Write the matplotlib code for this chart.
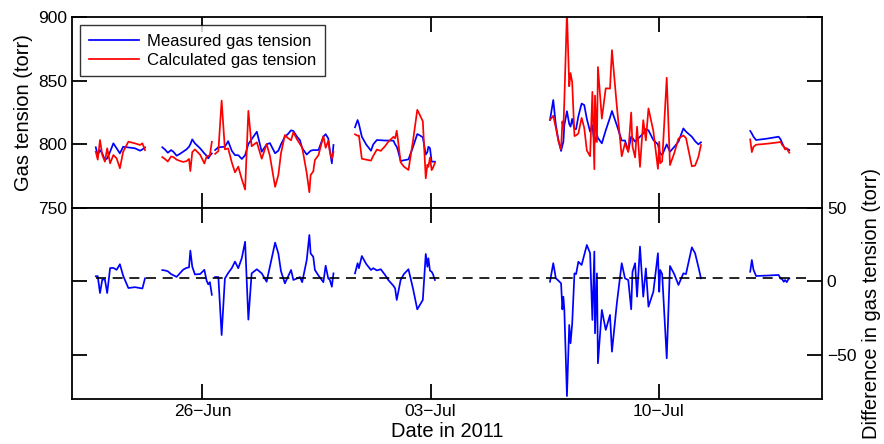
import numpy as np
import pandas as pd

import matplotlib
matplotlib.use('Agg')
import matplotlib.pyplot as plt
import matplotlib.dates as mdates

plt.rcParams['font.family'] = ['Liberation Sans', 'DejaVu Sans']

# Time axis: fractional days after 2011-06-22 00:00. Segments are separate
# logging periods (gaps between them).
T0 = pd.Timestamp('2011-06-22')

day_1 = [0.73, 0.79, 0.86, 0.93, 1.01, 1.08, 1.17, 1.27, 1.37, 1.47, 1.57, 1.73, 1.93, 2.09, 2.16, 2.24]
meas_1 = [797.7, 791.6, 795.5, 792.9, 787.7, 789.0, 794.2, 800.8, 796.9, 792.9, 798.1, 797.6, 796.9, 795.0, 796.0, 797.6]
calc_1 = [794.2, 788.0, 803.4, 791.6, 786.4, 796.9, 785.1, 791.6, 789.0, 781.2, 794.2, 802.1, 800.8, 799.5, 800.8, 795.5]

day_2 = [2.77, 2.85, 2.94, 3.04, 3.11, 3.21, 3.31, 3.41, 3.51, 3.59, 3.63, 3.69, 3.77, 3.93, 4.06, 4.13, 4.18, 4.23, 4.29]
meas_2 = [797.7, 796.0, 793.4, 795.5, 794.2, 791.1, 792.5, 794.2, 796.0, 798.1, 800.0, 803.9, 800.8, 796.9, 792.9, 791.0, 789.0, 791.0, 792.9]
calc_2 = [790.0, 788.5, 786.5, 790.5, 790.0, 788.0, 787.0, 786.2, 786.8, 788.5, 779.0, 793.9, 796.0, 791.9, 785.0, 790.5, 791.0, 791.5, 802.0]

day_3 = [4.39, 4.49, 4.59, 4.69, 4.79, 4.90, 5.00, 5.10, 5.21, 5.31, 5.41, 5.51, 5.67, 5.82, 5.97, 6.07,
         6.23, 6.33, 6.41, 6.53, 6.62, 6.72, 6.79, 6.90, 6.99, 7.06, 7.20, 7.28, 7.32, 7.40, 7.45, 7.56,
         7.71, 7.78, 7.86, 7.91, 7.97, 8.02]
meas_3 = [795.5, 797.7, 797.9, 798.1, 802.5, 795.0, 791.5, 791.5, 788.5, 791.5, 800.3, 804.0, 809.9, 794.2, 800.0, 801.0,
          793.0, 795.0, 800.0, 806.0, 808.0, 811.0, 810.5, 806.0, 803.4, 797.0, 792.0, 794.0, 795.0, 795.5, 795.5, 795.5,
          806.0, 808.0, 804.7, 795.0, 785.1, 799.5]
calc_3 = [792.5, 794.7, 834.4, 796.1, 796.8, 786.0, 778.0, 782.5, 772.5, 764.5, 826.3, 798.5, 801.6, 788.7, 800.2, 791.0,
          766.6, 776.0, 793.0, 807.3, 805.0, 803.2, 809.5, 804.0, 800.4, 797.5, 777.4, 762.4, 776.0, 778.7, 787.7, 791.5,
          806.5, 797.3, 802.7, 794.0, 788.7, 794.0]

day_4 = [8.68, 8.76, 8.80, 8.89, 9.02, 9.17, 9.24, 9.35, 9.47, 9.60, 9.70, 9.86, 9.91, 9.96, 10.00, 10.08,
         10.18, 10.32, 10.46, 10.59, 10.67, 10.76, 10.85, 10.90, 10.93, 10.98, 11.03, 11.07, 11.13]
meas_4 = [813.4, 819.1, 816.0, 806.0, 800.0, 795.0, 800.0, 803.4, 803.2, 803.0, 803.0, 802.9, 800.0, 798.1, 795.0, 786.9,
          787.5, 788.2, 798.0, 808.1, 807.0, 805.5, 792.0, 794.0, 798.1, 797.0, 786.4, 786.4, 786.4]
calc_4 = [807.9, 806.7, 807.0, 788.7, 788.0, 787.2, 791.0, 795.9, 794.9, 798.5, 802.0, 805.9, 804.7, 810.7, 803.0, 785.9,
          782.5, 779.9, 803.0, 827.1, 823.0, 818.1, 773.3, 784.0, 782.3, 789.7, 779.8, 781.4, 785.4]

day_5 = [14.66, 14.76, 14.84, 14.92, 15.00, 15.04, 15.07, 15.10, 15.18, 15.25, 15.29, 15.34, 15.41, 15.46, 15.53,
         15.63, 15.71, 15.79, 15.89, 15.96, 16.02, 16.04, 16.10, 16.13, 16.25, 16.37, 16.50, 16.56, 16.71, 16.86,
         16.96, 17.06, 17.15, 17.19, 17.27, 17.33, 17.42, 17.52, 17.60, 17.68, 17.83, 17.97, 18.01, 18.04, 18.10,
         18.24, 18.34, 18.47, 18.60, 18.75, 18.83, 19.01, 19.11, 19.21, 19.29]
meas_5 = [819.1, 834.8, 815.0, 803.0, 794.8, 799.0, 802.1, 815.0, 826.0, 816.0, 813.9, 820.0, 812.0, 812.0, 822.0,
          832.0, 830.9, 820.0, 809.9, 815.0, 800.8, 803.0, 807.3, 805.0, 800.8, 811.0, 821.0, 826.2, 815.0, 803.0,
          803.0, 795.0, 806.0, 805.0, 802.1, 803.5, 806.0, 808.6, 812.0, 811.0, 803.4, 800.0, 795.0, 793.0, 791.6,
          800.0, 794.2, 798.0, 802.1, 812.5, 810.0, 806.0, 802.5, 800.0, 801.6]
calc_5 = [819.3, 822.4, 812.9, 802.5, 796.1, 818.0, 812.5, 834.4, 904.0, 845.6, 856.0, 849.0, 806.5, 807.0, 808.6,
          820.8, 812.9, 795.2, 790.7, 841.2, 780.5, 838.3, 801.8, 860.7, 820.2, 844.0, 843.8, 874.0, 829.9, 790.6,
          800.9, 794.0, 825.0, 798.4, 789.7, 813.9, 782.3, 819.0, 803.1, 828.2, 810.4, 780.8, 802.0, 785.2, 786.6,
          852.3, 783.7, 793.0, 804.5, 807.0, 805.0, 782.8, 783.3, 790.0, 799.5]

day_6 = [20.80, 20.85, 20.90, 20.98, 21.32, 21.67, 21.73, 21.78, 21.83, 21.87, 21.92, 21.97, 22.00]
meas_6 = [810.5, 808.5, 806.0, 803.4, 804.5, 806.0, 804.0, 801.0, 798.1, 797.0, 796.5, 796.0, 795.5]
calc_6 = [803.9, 793.9, 798.0, 799.7, 800.5, 801.6, 802.0, 799.5, 798.3, 796.0, 797.0, 794.5, 793.4]

# Dashed reference line in the difference panel
ref_level = 2.0
ref_span = [0.73, 22.65]

tick_days = [4, 11, 18]


def join_segments(parts):
    """Concatenate segments with NaN separators so the line breaks at gaps."""
    out = []
    for i, p in enumerate(parts):
        if i:
            out.append(np.nan)
        out.extend(p)
    return np.array(out, dtype=float)


days = join_segments([day_1, day_2, day_3, day_4, day_5, day_6])
measured = join_segments([meas_1, meas_2, meas_3, meas_4, meas_5, meas_6])
calculated = join_segments([calc_1, calc_2, calc_3, calc_4, calc_5, calc_6])
difference = measured - calculated

times = np.array([T0 + pd.Timedelta(days=d) if np.isfinite(d) else pd.NaT for d in days])
times = pd.to_datetime(times)


def to_time(d):
    return T0 + pd.Timedelta(days=d)


fig = plt.figure(figsize=(8.84, 4.44), dpi=100)
ax1 = fig.add_axes([0.0814, 0.5315, 0.8484, 0.4302])
ax2 = fig.add_axes([0.0814, 0.1014, 0.8484, 0.4302], sharex=ax1)

ax1.plot(times, measured, color='#0000ff', lw=1.25, label='Measured gas tension')
ax1.plot(times, calculated, color='#ff0000', lw=1.25, label='Calculated gas tension')
ax1.set_ylim(750, 900)
ax1.set_yticks([750, 800, 850, 900])
ax1.set_ylabel('Gas tension (torr)', fontsize=14.5)

leg = ax1.legend(loc='upper left', fontsize=12, frameon=True, fancybox=False,
                 handlelength=3.0, borderpad=0.5, labelspacing=0.25,
                 handletextpad=0.5, borderaxespad=0.5)
leg.get_frame().set_edgecolor('black')
leg.get_frame().set_linewidth(1.0)

ax2.plot(times, difference, color='#0000ff', lw=1.25)
ax2.plot([to_time(ref_span[0]), to_time(ref_span[1])], [ref_level, ref_level],
         color='black', lw=1.2, dashes=(6, 4))
ax2.set_ylim(-80, 50)
ax2.set_yticks([-50, 0, 50])
ax2.yaxis.set_label_position('right')
ax2.set_ylabel('Difference in gas tension (torr)', fontsize=14.5, labelpad=4)
ax2.set_xlabel('Date in 2011', fontsize=14.5, labelpad=2)

ax2.set_xlim(to_time(0), to_time(23))
ax2.set_xticks([to_time(d) for d in tick_days])
ax2.xaxis.set_major_formatter(mdates.DateFormatter('%d\u2212%b'))

for ax in (ax1, ax2):
    for sp in ax.spines.values():
        sp.set_linewidth(1.3)
    ax.tick_params(direction='in', length=11, width=1.3, top=True, right=True,
                   left=True, bottom=True, labelsize=12.5)

ax1.tick_params(labelbottom=False)
ax2.tick_params(labelleft=False, labelright=True)

fig.savefig('out.png', dpi=100)
